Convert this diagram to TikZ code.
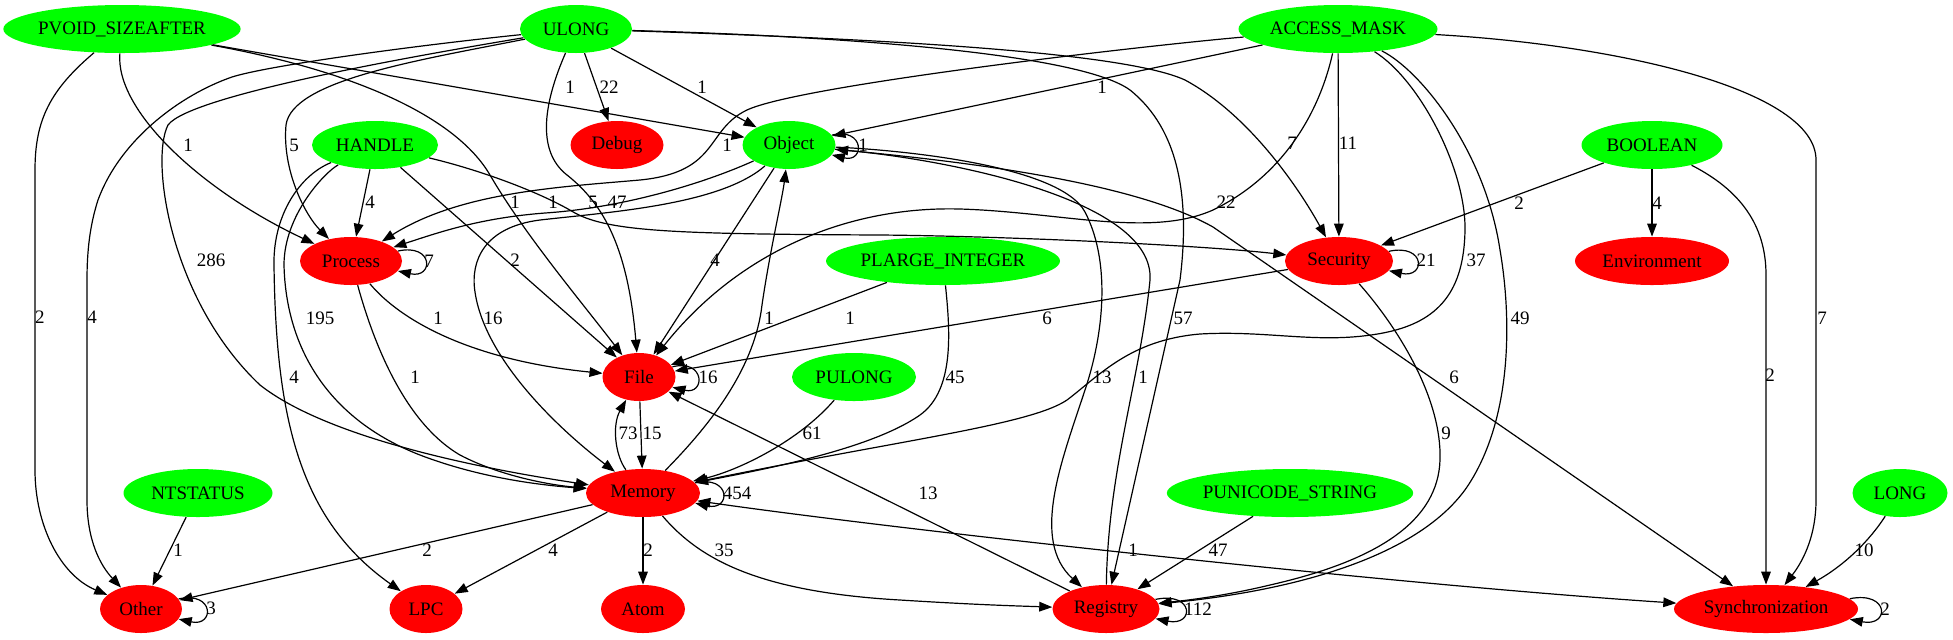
\documentclass[tikz,border=0pt]{standalone}
\usepackage{fontspec}
\setmainfont{Liberation Serif}
\usetikzlibrary{shapes.geometric,arrows.meta}
\begin{document}
\begin{tikzpicture}[x=0.5pt,y=-0.5pt,
  >={Triangle[length=6.5pt,width=4.8pt]},
  nd/.style={ellipse, inner sep=0pt, minimum height=24pt, font=\fontsize{9.5}{10}\selectfont},
  src/.style={nd, fill=green},
  dst/.style={nd, fill=red},
  sz/.style={minimum width=#1*0.5pt},
  e/.style={->, draw=black, line width=0.6pt},
  eb/.style={<->, draw=black, line width=0.6pt},
  lbl/.style={inner sep=0pt, font=\fontsize{9.5}{10}\selectfont}]
\useasboundingbox (0,0) rectangle (1953,639);

% nodes
\node[src,sz=235] (pvoid) at (122,29) {PVOID\_SIZEAFTER};
\node[src,sz=112] (ulong) at (576,29) {ULONG};
\node[src,sz=199] (amask) at (1338,29) {ACCESS\_MASK};
\node[src,sz=126] (handle) at (375,145) {HANDLE};
\node[dst,sz=93] (debug) at (617,145) {Debug};
\node[src,sz=93] (object) at (789,145) {Object};
\node[src,sz=141] (boolean) at (1652,145) {BOOLEAN};
\node[dst,sz=102] (process) at (351,261) {Process};
\node[src,sz=234] (plarge) at (943,261) {PLARGE\_INTEGER};
\node[dst,sz=108] (security) at (1339,261) {Security};
\node[dst,sz=154] (environment) at (1652,261) {Environment};
\node[dst,sz=73] (file) at (639,377) {File};
\node[src,sz=124] (pulong) at (854,377) {PULONG};
\node[src,sz=149] (ntstatus) at (198,493) {NTSTATUS};
\node[dst,sz=114] (memory) at (643,493) {Memory};
\node[src,sz=244] (punicode) at (1290,493) {PUNICODE\_STRING};
\node[src,sz=95] (long) at (1900,493) {LONG};
\node[dst,sz=82] (other) at (141,609) {Other};
\node[dst,sz=73] (lpc) at (426,609) {LPC};
\node[dst,sz=84] (atom) at (643,609) {Atom};
\node[dst,sz=107] (registry) at (1106,609) {Registry};
\node[dst,sz=184] (sync) at (1766,609) {Synchronization};

% PVOID_SIZEAFTER
\draw[e] (pvoid) .. controls (50,90) and (35,120) .. (35,170) -- (35,470) .. controls (35,525) and (60,575) .. (other);
\draw[e] (pvoid) .. controls (115,110) and (200,190) .. (process);
\draw[e] (pvoid) -- (object);
\draw[e] (pvoid) .. controls (350,70) and (455,115) .. (490,175) .. controls (525,235) and (580,300) .. (file);

% ULONG
\draw[e] (ulong) .. controls (420,45) and (270,65) .. (232,77) .. controls (180,95) and (120,140) .. (98,200) .. controls (90,225) and (87,250) .. (87,280) -- (87,500) .. controls (87,540) and (100,565) .. (other);
\draw[e] (ulong) .. controls (420,55) and (190,95) .. (168,125) .. controls (150,160) and (170,300) .. (260,385) .. controls (330,440) and (490,470) .. (memory);
\draw[e] (ulong) .. controls (420,60) and (292,80) .. (286,125) .. controls (282,170) and (305,215) .. (process);
\draw[e] (ulong) .. controls (545,100) and (535,150) .. (567,175) .. controls (605,205) and (628,250) .. (file);
\draw[e] (ulong) -- (debug);
\draw[e] (ulong) -- (object);
\draw[e] (ulong) .. controls (800,35) and (1075,50) .. (1130,90) .. controls (1180,130) and (1190,200) .. (1180,280) -- (registry);
\draw[e] (ulong) .. controls (850,38) and (1120,50) .. (1185,80) .. controls (1250,115) and (1300,190) .. (security);

% HANDLE
\draw[e] (handle) -- (process);
\draw[e] (handle) .. controls (300,175) and (273,215) .. (274,265) .. controls (276,420) and (300,520) .. (lpc);
\draw[e] (handle) .. controls (325,172) and (284,215) .. (284,265) .. controls (286,350) and (330,420) .. (420,455) .. controls (480,478) and (540,485) .. (memory);
\draw[e] (handle) -- (file);
\draw[e] (handle) .. controls (480,170) and (540,192) .. (575,213) .. controls (610,232) and (680,234) .. (880,235) .. controls (1000,236) and (1200,245) .. (security);

% ACCESS_MASK
\draw[e] (amask) .. controls (1150,45) and (800,85) .. (747,110) .. controls (705,130) and (720,172) .. (640,180) .. controls (560,187) and (460,192) .. (process);
\draw[e] (amask) -- (object);
\draw[e] (amask) .. controls (1320,110) and (1285,175) .. (1213,210) .. controls (1150,238) and (1060,212) .. (960,209) .. controls (850,206) and (740,250) .. (file);
\draw[e] (amask) -- (security);
\draw[e] (amask) .. controls (1420,80) and (1466,170) .. (1465,230) .. controls (1464,290) and (1440,322) .. (1383,333) .. controls (1320,345) and (1270,330) .. (1200,334) .. controls (1130,340) and (1100,375) .. (1067,400) .. controls (1030,425) and (900,440) .. (memory);
\draw[e] (amask) .. controls (1420,70) and (1485,150) .. (1500,250) .. controls (1512,320) and (1512,420) .. (1467,487) .. controls (1420,555) and (1300,590) .. (registry);
\draw[e] (amask) .. controls (1620,45) and (1816,90) .. (1816,160) -- (1816,500) .. controls (1816,540) and (1800,565) .. (sync);

% Object
\draw[e] (object) .. controls (700,185) and (620,208) .. (545,213) .. controls (480,218) and (440,232) .. (process);
\draw[e] (object) .. controls (720,205) and (610,212) .. (540,220) .. controls (485,227) and (470,260) .. (475,292) .. controls (485,360) and (560,430) .. (memory);
\draw[e] (object) -- (file);
\draw[e] (object) .. controls (900,150) and (1060,165) .. (1085,212) .. controls (1110,260) and (1105,330) .. (1085,390) .. controls (1062,460) and (1030,540) .. (registry);
\draw[e] (object) .. controls (950,160) and (1130,180) .. (1213,227) -- (sync);
\draw[e] (object.13) .. controls +(33,-8) and +(33,8) .. (object.-13);

% BOOLEAN
\draw[e] (boolean) -- (security);
\draw[e] (boolean) -- (environment);
\draw[e] (boolean) .. controls (1740,190) and (1766,225) .. (1766,275) -- (sync);

% PLARGE_INTEGER, PULONG, NTSTATUS, PUNICODE_STRING, LONG
\draw[e] (plarge) -- (file);
\draw[e] (plarge) .. controls (950,330) and (955,390) .. (920,415) .. controls (870,450) and (760,470) .. (memory);
\draw[e] (pulong) .. controls (800,440) and (740,470) .. (memory);
\draw[e] (ntstatus) -- (other);
\draw[e] (punicode) -- (registry);
\draw[e] (long) .. controls (1870,540) and (1845,565) .. (sync);

% Process
\draw[e] (process) .. controls (400,320) and (470,360) .. (file);
\draw[e] (process) .. controls (370,330) and (400,420) .. (460,455) .. controls (500,476) and (550,485) .. (memory);
\draw[e] (process.12) .. controls +(36,-8) and +(36,8) .. (process.-12);

% Security
\draw[e] (security) -- (file);
\draw[e] (security) .. controls (1400,330) and (1442,400) .. (1440,460) .. controls (1438,520) and (1380,560) .. (1270,585) .. controls (1220,597) and (1180,601) .. (registry);
\draw[e] (security.11.5) .. controls +(37,-8) and +(37,8) .. (security.-11.5);

% File
\draw[e] (file) -- (memory);
\draw[e] (file.17) .. controls +(33,-8) and +(33,8) .. (file.-17);

% Memory
\draw[e] (memory) .. controls (715,420) and (755,365) .. (762,305) .. controls (770,250) and (782,200) .. (object);
\draw[e] (memory) .. controls (615,455) and (612,425) .. (file);
\draw[e] (memory) -- (other);
\draw[e] (memory) -- (lpc);
\draw[e] (memory) -- (atom);
\draw[e] (memory) .. controls (700,560) and (760,592) .. (900,600) .. controls (980,605) and (1020,606) .. (registry);
\draw[eb] (memory) .. controls (900,530) and (1400,585) .. (sync);
\draw[e] (memory.11) .. controls +(36,-8) and +(36,8) .. (memory.-11);

% Registry
\draw[e] (registry) .. controls (1108,470) and (1140,380) .. (1150,280) .. controls (1155,200) and (950,160) .. (object);
\draw[e] (registry) -- (file);
\draw[e] (registry.11.5) .. controls +(39,-8) and +(39,8) .. (registry.-11.5);

% Other, Synchronization
\draw[e] (other.15) .. controls +(36,-8) and +(36,8) .. (other.-15);
\draw[e] (sync.7) .. controls +(40,-8) and +(40,8) .. (sync.-7);

% labels
\node[lbl] (l1) at (40,317) {2};
\node[lbl] (l2) at (92,317) {4};
\node[lbl] (l3) at (211,260) {286};
\node[lbl] (l4) at (294,145) {5};
\node[lbl] (l5) at (617,202) {47};
\node[lbl] (l6) at (609,87) {22};
\node[lbl] (l7) at (702,87) {1};
\node[lbl] (l8) at (1183,318) {57};
\node[lbl] (l9) at (1292,143) {7};
\node[lbl] (l10) at (188,145) {1};
\node[lbl] (l11) at (570,87) {1};
\node[lbl] (l12) at (515,202) {1};
\node[lbl] (l13) at (370,202) {4};
\node[lbl] (l14) at (294,377) {4};
\node[lbl] (l15) at (320,318) {195};
\node[lbl] (l16) at (515,260) {2};
\node[lbl] (l17) at (593,202) {5};
\node[lbl] (l18) at (727,145) {1};
\node[lbl] (l19) at (553,202) {1};
\node[lbl] (l20) at (493,318) {16};
\node[lbl] (l21) at (715,260) {4};
\node[lbl] (l22) at (1102,377) {13};
\node[lbl] (l23) at (1143,377) {1};
\node[lbl] (l24) at (1454,377) {6};
\node[lbl] (l25) at (863,145) {1};
\node[lbl] (l26) at (769,318) {1};
\node[lbl] (l27) at (1102,87) {1};
\node[lbl] (l28) at (1226,202) {22};
\node[lbl] (l29) at (1348,143) {11};
\node[lbl] (l30) at (1476,260) {37};
\node[lbl] (l31) at (1520,318) {49};
\node[lbl] (l32) at (1822,318) {7};
\node[lbl] (l33) at (1519,203) {2};
\node[lbl] (l34) at (1657,203) {4};
\node[lbl] (l35) at (1770,375) {2};
\node[lbl] (l36) at (850,318) {1};
\node[lbl] (l37) at (1047,318) {6};
\node[lbl] (l38) at (955,377) {45};
\node[lbl] (l39) at (812,433) {61};
\node[lbl] (l40) at (178,550) {1};
\node[lbl] (l41) at (628,433) {73};
\node[lbl] (l42) at (652,433) {15};
\node[lbl] (l43) at (427,550) {2};
\node[lbl] (l44) at (553,550) {4};
\node[lbl] (l45) at (648,550) {2};
\node[lbl] (l46) at (724,550) {35};
\node[lbl] (l47) at (1133,550) {1};
\node[lbl] (l48) at (928,493) {13};
\node[lbl] (l49) at (1218,550) {47};
\node[lbl] (l50) at (1446,433) {9};
\node[lbl] (l51) at (1864,550) {10};
\node[lbl] (l52) at (438,318) {1};
\node[lbl] (l53) at (415,377) {1};
\node[lbl] (l54) at (429,261) {7};
\node[lbl] (l55) at (708,377) {16};
\node[lbl] (l56) at (737,493) {454};
\node[lbl] (l57) at (1426,260) {21};
\node[lbl] (l58) at (1198,609) {112};
\node[lbl] (l59) at (211,608) {3};
\node[lbl] (l60) at (1885,609) {2};
\end{tikzpicture}
\end{document}
